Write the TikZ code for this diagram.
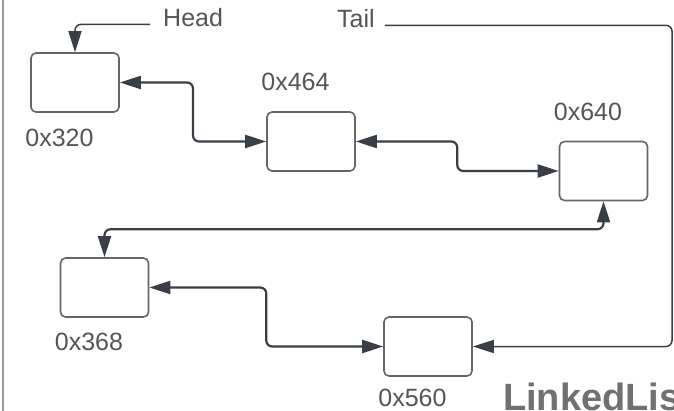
\documentclass[tikz,border=0pt]{standalone}
\usepackage{fontspec}
\setmainfont{Liberation Sans}
\usetikzlibrary{positioning}
\usetikzlibrary{calc}
\usetikzlibrary{arrows.meta}

\definecolor{txtgray}{HTML}{555555}
\definecolor{boxgray}{HTML}{666666}
\definecolor{linkgray}{HTML}{3A3F47}
\definecolor{titlegray}{HTML}{707070}

\begin{document}
\begin{tikzpicture}[x=1pt, y=-1pt, node distance=15pt,
		every node/.style={font=\fontsize{25}{30}\selectfont, text=txtgray, inner sep=0pt},
		cell/.style={draw=boxgray, line width=1.6pt, rounded corners=5pt, minimum width=88pt, minimum height=59pt},
		addr/.style={xshift=-5pt},
		link/.style={draw=linkgray, line width=2.2pt, rounded corners=6pt, >={Triangle[length=21pt,width=13pt]}},
		ptr/.style={draw=linkgray, line width=1.5pt, rounded corners=6pt, >={Triangle[length=21pt,width=13pt]}}]
			\clip (0,0) rectangle (674,411);
			\fill[white] (0,0) rectangle (674,411);
			\draw[gray!80, line width=2pt] (3,0) -- (3,411);
			% list nodes
			\node[cell] (n320) at (75,82.5) {};
			\node[cell] (n464) at (311,141.5) {};
			\node[cell] (n640) at (603.5,171) {};
			\node[cell] (n368) at (104.5,287.5) {};
			\node[cell] (n560) at (428,346.5) {};
			% addresses
			\node[addr, below=16pt of n320.south west, anchor=north west] (a320) {0x320};
			\node[addr, above=20pt of n464.north west, anchor=south west] (a464) {0x464};
			\node[addr, above=20pt of n640.north west, anchor=south west] (a640) {0x640};
			\node[addr, below=of n368.south west, anchor=north west] (a368) {0x368};
			\node[addr, below=12pt of n560.south west, anchor=north west] (a560) {0x560};
			% head and tail
			\node[anchor=base west] (head) at (163,27) {Head};
			\node[anchor=base west] (tail) at (337,28) {Tail};
			\coordinate (edge) at (672,200);
			\draw[ptr,->] ([xshift=-13pt]head.mid west) -| (n320.north);
			\draw[ptr,->] ([xshift=10pt]tail.mid east) -| (edge) |- (n560.east);
			% links
			\draw[link,<->] (n320.east) -| ($(n320.east)!.5!(n464.west)$) |- (n464.west);
			\draw[link,<->] (n464.east) -| ($(n464.east)!.5!(n640.west)$) |- (n640.west);
			\draw[link,<->] (n640.south) |- ($(n640.south)!.5!(n368.north)$) -| (n368.north);
			\draw[link,<->] (n368.east) -| ($(n368.east)!.5!(n560.west)$) |- (n560.west);
			% title
			\node[anchor=base west, font=\fontsize{38}{44}\selectfont\bfseries, text=titlegray] (title) at (503,410) {LinkedList};
		\end{tikzpicture}
\end{document}
